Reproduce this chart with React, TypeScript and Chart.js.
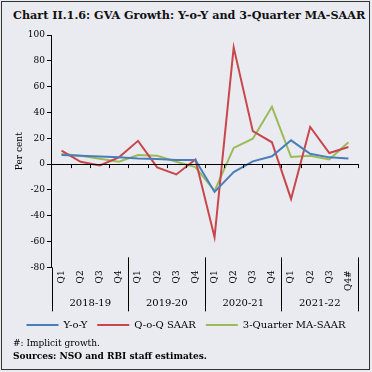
import { useEffect, useRef } from "react";
import { Chart, registerables } from "chart.js";

Chart.register(...registerables);

const quarters = ["Q1", "Q2", "Q3", "Q4", "Q1", "Q2", "Q3", "Q4", "Q1", "Q2", "Q3", "Q4", "Q1", "Q2", "Q3", "Q4#"];
const years = ["2018-19", "2019-20", "2020-21", "2021-22"];
const yoy = [7.0, 6.5, 5.9, 5.3, 4.4, 3.9, 3.1, 3.1, -21.6, -6.2, 2.1, 6.0, 18.4, 8.0, 5.2, 4.4];
const qoqSaar = [10.4, 1.8, -1.0, 5.2, 18.0, -2.6, -8.0, 3.6, -56.6, 90.4, 25.5, 16.9, -27.0, 28.8, 8.6, 13.2];
const maSaar = [7.8, 6.5, 4.2, 1.8, 7.0, 6.5, 1.8, -2.3, -20.8, 12.5, 19.7, 44.4, 5.5, 6.5, 3.6, 16.9];
const yTicks = [-80, -60, -40, -20, 0, 20, 40, 60, 80, 100];

const FONT = "'DejaVu Serif', serif";

const decorPlugin = {
  id: "decor",
  afterDraw(chart: any) {
    const { ctx, chartArea, scales } = chart;
    const x = scales.x;
    const y = scales.y;
    const n = quarters.length;
    const half = (x.getPixelForValue(1) - x.getPixelForValue(0)) / 2;
    const boundary = (i: number) => (i < n ? x.getPixelForValue(i) - half : x.getPixelForValue(n - 1) + half);
    const y0 = y.getPixelForValue(0);
    const divTop = chartArea.bottom - 10;
    const divBottom = chartArea.bottom + 44;
    ctx.save();
    ctx.strokeStyle = "#000";
    ctx.lineWidth = 1;
    // zero line with ticks
    ctx.beginPath();
    ctx.moveTo(chartArea.left, Math.round(y0) + 0.5);
    ctx.lineTo(boundary(n), Math.round(y0) + 0.5);
    for (let i = 1; i <= n; i++) {
      const bx = Math.round(boundary(i)) + 0.5;
      ctx.moveTo(bx, y0);
      ctx.lineTo(bx, y0 + 4);
    }
    // y axis extension
    const lx = Math.round(chartArea.left) + 0.5;
    ctx.moveTo(lx, chartArea.bottom);
    ctx.lineTo(lx, divBottom);
    // year dividers
    const per = n / years.length;
    for (let g = 1; g <= years.length; g++) {
      const bx = Math.round(boundary(g * per)) + 0.5;
      ctx.moveTo(bx, divTop);
      ctx.lineTo(bx, divBottom);
    }
    ctx.stroke();
    // year labels
    ctx.fillStyle = "#000";
    ctx.font = `10px ${FONT}`;
    ctx.textAlign = "center";
    ctx.textBaseline = "middle";
    years.forEach((yr, g) => {
      const cx = (boundary(g * per) + boundary((g + 1) * per)) / 2;
      ctx.fillText(yr, cx, chartArea.bottom + 36);
    });
    ctx.restore();
  },
};

export default function App() {
  const ref = useRef<HTMLCanvasElement | null>(null);

  useEffect(() => {
    document.body.style.margin = "0";
    const canvas = ref.current;
    if (!canvas) return;
    const chart = new Chart(canvas, {
      type: "line",
      data: {
        labels: quarters,
        datasets: [
          { label: "Y-o-Y", data: yoy, borderColor: "#4a7ebb", backgroundColor: "#4a7ebb", borderWidth: 2, pointRadius: 0, tension: 0 },
          { label: "Q-o-Q SAAR", data: qoqSaar, borderColor: "#c8474a", backgroundColor: "#c8474a", borderWidth: 2, pointRadius: 0, tension: 0 },
          { label: "3-Quarter MA-SAAR", data: maSaar, borderColor: "#9bbb59", backgroundColor: "#9bbb59", borderWidth: 2, pointRadius: 0, tension: 0 },
        ],
      },
      options: {
        animation: false,
        responsive: false,
        maintainAspectRatio: false,
        layout: { padding: { top: 35, left: 14, right: 14, bottom: 0 } },
        scales: {
          x: {
            type: "category",
            offset: true,
            grid: { display: false, drawTicks: false },
            border: { display: false },
            ticks: {
              autoSkip: false,
              minRotation: 90,
              maxRotation: 90,
              padding: 3,
              color: "#000",
              font: { family: FONT, size: 9 },
            },
            afterFit: (scale: any) => {
              scale.height += 16;
            },
          },
          y: {
            min: -80,
            max: 100,
            afterBuildTicks: (scale: any) => {
              scale.ticks = yTicks.map((v) => ({ value: v }));
            },
            grid: { drawOnChartArea: false, drawTicks: true, tickLength: 5, color: "#000" },
            border: { display: true, color: "#000", width: 1 },
            ticks: { padding: 2, color: "#000", font: { family: FONT, size: 9 } },
            title: { display: true, text: "Per cent", color: "#000", font: { family: FONT, size: 9 }, padding: { top: 0, bottom: 1 } },
          },
        },
        plugins: {
          legend: {
            position: "bottom",
            labels: {
              usePointStyle: true,
              pointStyle: "line",
              pointStyleWidth: 32,
              padding: 10,
              color: "#000",
              font: { family: FONT, size: 10 },
            },
          },
          tooltip: { enabled: false },
        },
      },
      plugins: [decorPlugin],
    });
    return () => chart.destroy();
  }, []);

  return (
    <div style={{ position: "relative", width: 372, height: 372, background: "rgb(234,235,241)", overflow: "hidden" }}>
      <div style={{ position: "absolute", left: 1, top: 1, width: 369, height: 369, border: "1.5px solid #333", boxSizing: "border-box" }} />
      <div style={{ position: "absolute", left: 13, top: 8, fontFamily: FONT, fontWeight: "bold", fontSize: 11.2, color: "#111", whiteSpace: "nowrap", lineHeight: "14px" }}>
        Chart II.1.6: GVA Growth: Y-o-Y and 3-Quarter MA-SAAR
      </div>
      <canvas ref={ref} width={372} height={340} style={{ position: "absolute", left: 0, top: 0 }} />
      <div style={{ position: "absolute", left: 13, top: 337, fontFamily: FONT, fontSize: 9, color: "#000", lineHeight: "12.5px", whiteSpace: "nowrap" }}>
        <div>#: Implicit growth.</div>
        <div style={{ fontWeight: "bold" }}>Sources: NSO and RBI staff estimates.</div>
      </div>
    </div>
  );
}
